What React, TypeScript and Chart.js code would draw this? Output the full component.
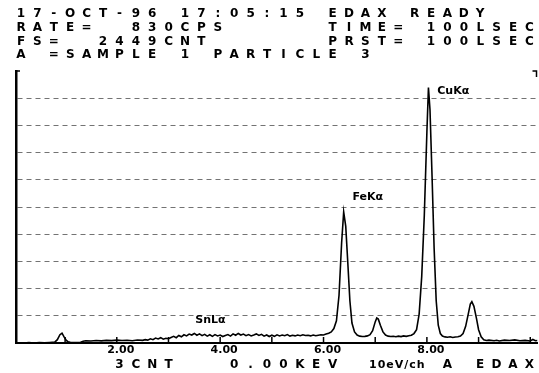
import React, { useEffect, useRef } from "react";
import { Chart, registerables } from "chart.js";

Chart.register(...registerables);

// ---- Data (energy in keV, counts) ----
const energies = [
  0.05, 0.1, 0.2, 0.3, 0.4, 0.5, 0.6, 0.7, 0.8, 0.85, 0.9, 0.94, 0.98, 1.02, 1.06, 1.1, 1.2, 1.3, 1.35, 1.4,
  1.5, 1.6, 1.7, 1.8, 1.9, 2.0, 2.1, 2.2, 2.3, 2.4, 2.5, 2.55, 2.6, 2.65, 2.7, 2.75, 2.8, 2.85, 2.9, 2.95,
  3.0, 3.05, 3.1, 3.15, 3.2, 3.25, 3.3, 3.35, 3.4, 3.45, 3.5, 3.55, 3.6, 3.65, 3.7, 3.75, 3.8, 3.85, 3.9, 3.95,
  4.0, 4.05, 4.1, 4.15, 4.2, 4.25, 4.3, 4.35, 4.4, 4.45, 4.5, 4.55, 4.6, 4.65, 4.7, 4.75, 4.8, 4.85, 4.9, 4.95,
  5.0, 5.05, 5.1, 5.15, 5.2, 5.25, 5.3, 5.35, 5.4, 5.45, 5.5, 5.55, 5.6, 5.65, 5.7, 5.75, 5.8, 5.85, 5.9, 5.95,
  6.0, 6.05, 6.1, 6.15, 6.2, 6.25, 6.3, 6.35, 6.39, 6.43, 6.47, 6.51, 6.55, 6.6, 6.65, 6.7, 6.75, 6.8, 6.85, 6.9,
  6.95, 7.0, 7.03, 7.06, 7.1, 7.15, 7.2, 7.25, 7.3, 7.35, 7.4, 7.45, 7.5, 7.55, 7.6, 7.65, 7.7, 7.75, 7.8, 7.85,
  7.9, 7.95, 8.0, 8.03, 8.06, 8.1, 8.14, 8.18, 8.22, 8.26, 8.3, 8.35, 8.4, 8.45, 8.5, 8.55, 8.6, 8.65, 8.7, 8.75,
  8.8, 8.84, 8.87, 8.91, 8.96, 9.0, 9.05, 9.1, 9.15, 9.2, 9.3, 9.35, 9.4, 9.5, 9.6, 9.7, 9.8, 9.9, 10.0, 10.05,
  10.1, 10.14,
];
const counts = [
  0, 2, 0, 3, 0, 4, 2, 5, 8, 30, 75, 88, 55, 25, 10, 6, 4, 6, 16, 20,
  18, 22, 19, 24, 21, 26, 22, 25, 20, 27, 24, 30, 26, 38, 30, 44, 36, 48, 34, 42,
  38, 50, 60, 48, 68, 56, 74, 64, 80, 72, 86, 70, 82, 66, 78, 62, 74, 60, 76, 64,
  72, 58, 68, 76, 62, 82, 70, 86, 72, 80, 66, 76, 64, 72, 82, 68, 78, 62, 72, 58,
  70, 60, 74, 64, 72, 66, 76, 62, 70, 64, 72, 66, 74, 68, 70, 64, 72, 66, 70, 74,
  72, 80, 88, 100, 130, 200, 430, 900, 1180, 1050, 720, 380, 180, 100, 72, 62, 58, 60, 64, 75,
  110, 190, 225, 215, 160, 100, 72, 62, 58, 60, 56, 62, 58, 64, 60, 66, 70, 85, 120, 260,
  600, 1150, 1900, 2300, 2100, 1500, 850, 380, 160, 85, 62, 55, 52, 56, 50, 54, 56, 62, 85, 150,
  260, 350, 372, 330, 220, 120, 55, 28, 22, 26, 20, 24, 18, 26, 22, 28, 20, 24, 18, 32,
  20, 22,
];

const fullScaleCounts = 2449;
const gridDivisions = 10;
const xMin = 0.05;
const xMax = 10.14;
const xLabelValues = [2, 4, 6, 8];
const xTickMarkValues = [1, 2, 3, 4, 5, 6, 7, 8, 9, 10];

const peakNames = ["CuK\u03b1", "FeK\u03b1", "SnL\u03b1"];
const peakLabelEnergy = [8.2, 6.56, 3.52];
const peakLabelCounts = [2270, 1315, 205];

// header / footer text, laid out on a fixed character grid (column index)
const headerRows = [
  "17-OCT-96 17:05:15 EDAX READY",
  "RATE=  830CPS      TIME= 100LSEC",
  "FS=  2449CNT       PRST= 100LSEC",
  "A =SAMPLE 1 PARTICLE 3",
];
const footerRow = "      3CNT   0.00KEV      A EDAX";
const footerScaleText = "10eV/ch";

const FONT = "'DejaVu Sans', 'Liberation Sans', sans-serif";

const textPlugin = {
  id: "edaxText",
  afterDraw(chart: any) {
    const ctx = chart.ctx as CanvasRenderingContext2D;
    const xs = chart.scales.x;
    const ys = chart.scales.y;
    ctx.save();
    // tick marks pointing up from the energy axis
    ctx.strokeStyle = "#000";
    ctx.lineWidth = 1.5;
    for (const v of xTickMarkValues) {
      const px = xs.getPixelForValue(v);
      ctx.beginPath();
      ctx.moveTo(px, ys.bottom);
      ctx.lineTo(px, ys.bottom - 6);
      ctx.stroke();
    }
    // corner stubs at the top of the frame
    ctx.beginPath();
    ctx.moveTo(xs.left, ys.top);
    ctx.lineTo(xs.left + 4, ys.top);
    ctx.moveTo(xs.right - 1, ys.top + 6);
    ctx.lineTo(xs.right - 1, ys.top);
    ctx.lineTo(xs.right - 5, ys.top);
    ctx.stroke();

    ctx.fillStyle = "#000";
    // peak labels
    ctx.font = `bold 11px ${FONT}`;
    ctx.textAlign = "left";
    ctx.textBaseline = "middle";
    peakNames.forEach((n, i) => {
      ctx.fillText(n, xs.getPixelForValue(peakLabelEnergy[i]), ys.getPixelForValue(peakLabelCounts[i]));
    });

    // grid text
    const x0 = 21;
    const pitch = 16.4;
    const rowY = [14, 28, 41.5, 55];
    ctx.textAlign = "center";
    ctx.font = `bold 12px ${FONT}`;
    headerRows.forEach((row, r) => {
      for (let c = 0; c < row.length; c++) {
        if (row[c] !== " ") ctx.fillText(row[c], x0 + c * pitch, rowY[r]);
      }
    });
    const fy = 365;
    for (let c = 0; c < footerRow.length; c++) {
      if (footerRow[c] !== " ") ctx.fillText(footerRow[c], x0 + c * pitch, fy);
    }
    ctx.textAlign = "left";
    ctx.font = `bold 11px ${FONT}`;
    (ctx as any).letterSpacing = "1px";
    ctx.fillText(footerScaleText, 369, fy);
    ctx.restore();
  },
};

export default function App() {
  const ref = useRef<HTMLCanvasElement | null>(null);
  useEffect(() => {
    if (!ref.current) return;
    const step = fullScaleCounts / gridDivisions;
    const chart = new Chart(ref.current, {
      type: "line",
      data: {
        datasets: [
          {
            data: energies.map((e, i) => ({ x: e, y: counts[i] })),
            borderColor: "#000",
            borderWidth: 1.6,
            pointRadius: 0,
            tension: 0,
            fill: false,
          },
        ],
      },
      options: {
        responsive: false,
        animation: false,
        devicePixelRatio: 1,
        layout: { padding: { left: 16, right: 1.5, top: 71, bottom: 14 } },
        plugins: { legend: { display: false }, tooltip: { enabled: false } },
        scales: {
          x: {
            type: "linear",
            min: xMin,
            max: xMax,
            afterBuildTicks: (s: any) => {
              s.ticks = xLabelValues.map((v) => ({ value: v }));
            },
            afterFit: (s: any) => {
              s.height = 16;
            },
            ticks: {
              callback: (v: any) => Number(v).toFixed(2),
              color: "#000",
              font: { family: FONT, size: 11, weight: "bold" },
              padding: 1,
              labelOffset: 4,
              maxRotation: 0,
              autoSkip: false,
            },
            grid: { display: false, drawTicks: false },
            border: { display: true, color: "#000", width: 2 },
          },
          y: {
            min: 0,
            max: fullScaleCounts,
            afterBuildTicks: (s: any) => {
              const t = [];
              for (let k = 1; k < gridDivisions; k++) t.push({ value: k * step });
              s.ticks = t;
            },
            afterFit: (s: any) => {
              s.width = 0;
            },
            ticks: { display: false },
            grid: { color: "rgba(0,0,0,0.55)", lineWidth: 1, drawTicks: false },
            border: { display: true, color: "#000", width: 2.5, dash: [5, 4] },
          },
        },
      },
      plugins: [textPlugin],
    });
    return () => chart.destroy();
  }, []);
  return (
    <div style={{ position: "absolute", left: 0, top: 0, width: 539, height: 373, background: "#fff" }}>
      <canvas ref={ref} width={539} height={373} style={{ display: "block" }} />
    </div>
  );
}
